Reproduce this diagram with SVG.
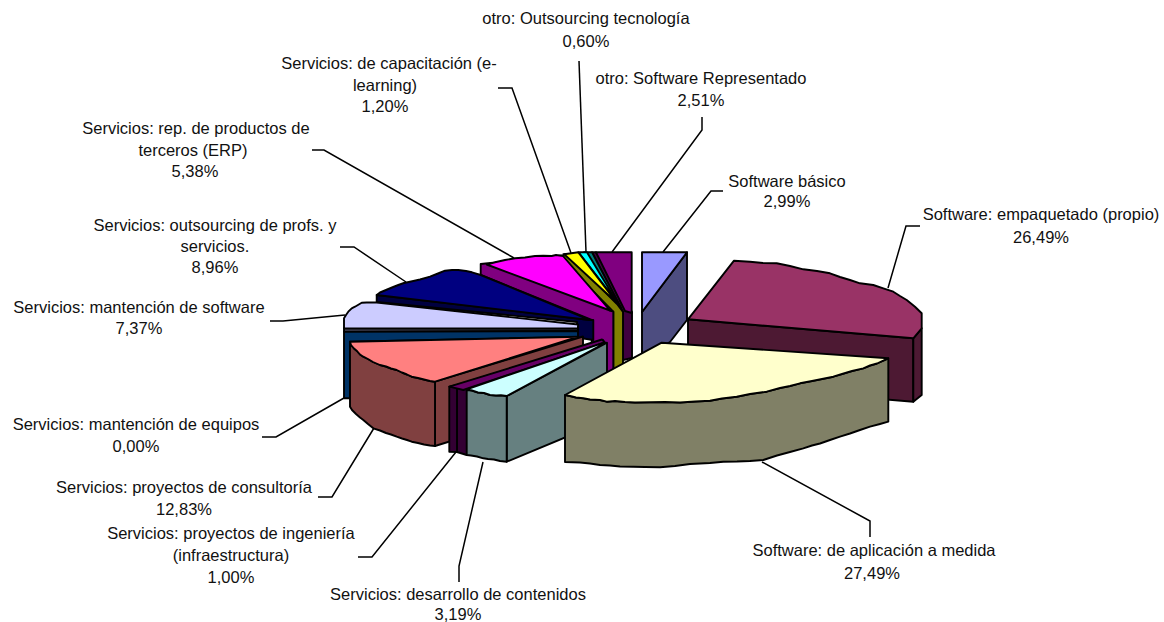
<svg xmlns="http://www.w3.org/2000/svg" width="1164" height="622" viewBox="0 0 1164 622">
<style>
.e{stroke:#000;stroke-width:1.9;stroke-linejoin:round}
.l{fill:none;stroke:#000;stroke-width:1.5}
.t{font-family:"Liberation Sans",Arial,sans-serif;font-size:16.5px;fill:#111;text-anchor:middle}
</style>
<rect width="1164" height="622" fill="#fff"/>
<g id="slice-otro-software-representado">
<polygon class="e" fill="#400040" points="592,252.3 596,252.3 632,312 632,358 623,360 623,312"/>
<polygon class="e" fill="#800080" points="596,252.3 631.7,252.3 631.7,313 625,311"/>
<text class="t" x="701" y="84">otro: Software Representado</text>
<text class="t" x="701" y="106">2,51%</text>
</g>
<g id="slice-otro-outsourcing-tecnologia">
<polygon class="e" fill="#008080" points="584,252.3 592,252.3 621,308 617,305"/>
<polygon class="e" fill="#00ffff" points="578.5,252.3 587,252.3 617,302"/>
<text class="t" x="586" y="24">otro: Outsourcing tecnología</text>
<text class="t" x="586" y="47">0,60%</text>
</g>
<g id="slice-servicios-capacitacion">
<polygon class="e" fill="#808000" points="563.3,254.3 567,254 617,304 623,312 623,367 613.3,372 613.3,311.7 563.3,261"/>
<polygon class="e" fill="#ffff00" points="564.3,254.3 578.3,252.3 617,303"/>
<text class="t" x="389" y="69">Servicios: de capacitación (e-</text>
<text class="t" x="385" y="91">learning)</text>
<text class="t" x="385" y="112">1,20%</text>
</g>
<g id="slice-software-basico">
<polygon class="e" fill="#4d4d80" points="642,312 687,252.3 687,320 670,342 642,358"/>
<polygon class="e" fill="#9999ff" points="642,252.3 687,252.3 642,312"/>
<text class="t" x="787" y="187">Software básico</text>
<text class="t" x="787" y="207">2,99%</text>
</g>
<g id="slice-servicios-erp">
<polygon class="e" fill="#800080" points="480.7,264 562,255.5 610,310.5 613.3,311.7 613.3,373 591.7,373 591.7,320 480.7,275"/>
<polygon class="e" fill="#ff00ff" points="486.7,264.5 495,262.3 505,260 515,258.3 525,257.5 535,256 543.3,255.7 551.7,256 556,255 563,256 610,310.5"/>
<text class="t" x="196" y="134">Servicios: rep. de productos de</text>
<text class="t" x="193" y="156">terceros (ERP)</text>
<text class="t" x="195" y="177">5,38%</text>
</g>
<g id="slice-servicios-outsourcing-profs">
<polygon class="e" fill="#000040" points="376.7,295 590,320 593.3,320 593.3,340 577,337.5 577,322 376.7,302"/>
<polygon class="e" fill="#000080" points="376.7,295 380,292.5 386,290 392,287.5 398.3,285 404,283 410,281.7 420,279.5 430,276.7 438,273.5 445,270.7 452,270 458.3,270 466,271 472,272.3 480.7,275 590,320"/>
<text class="t" x="215" y="231">Servicios: outsourcing de profs. y</text>
<text class="t" x="215" y="252">servicios.</text>
<text class="t" x="215" y="273">8,96%</text>
</g>
<g id="slice-servicios-mantencion-software">
<polygon class="e" fill="#666680" points="344,328.3 578,328.5 578,331 344,331.7"/>
<polygon class="e" fill="#ccccff" points="344,328.3 344,318.3 346,315 348.3,311.7 351.7,308.3 355,306.7 361.7,302.7 366.7,302.5 376.7,302.5 578,324.5 578,328.5"/>
<text class="t" x="139" y="313">Servicios: mantención de software</text>
<text class="t" x="139" y="334">7,37%</text>
</g>
<g id="slice-servicios-mantencion-equipos">
<polygon class="e" fill="#003366" points="344,331.7 578,331 578,337 350,341.7 350,398.3 344,398.3"/>
<text class="t" x="136" y="430">Servicios: mantención de equipos</text>
<text class="t" x="136" y="452">0,00%</text>
</g>
<g id="slice-software-empaquetado">
<polygon class="e" fill="#4d1933" points="688,319.3 913.3,338.3 913.3,401.7 688,383"/>
<polygon class="e" fill="#4d1933" points="913.3,338.3 921.7,328.3 921.7,395 913.3,401.7"/>
<polygon class="e" fill="#993366" points="688,319.3 734,260.7 750,261.7 763,263 776.7,263.3 790,266 803.3,269.3 817,271 830,273.3 840,277 850,280 860,283.3 873.3,285 883.3,288.3 893.3,291.7 900,296 906.7,300 915,306.7 921.7,313.3 921.7,328.3 913.3,338.3"/>
<text class="t" x="1041" y="220">Software: empaquetado (propio)</text>
<text class="t" x="1041" y="243">26,49%</text>
</g>
<g id="slice-servicios-consultoria">
<polygon class="e" fill="#804040" points="435,381.7 583,336.5 583,400 435,446"/>
<polygon class="e" fill="#804040" points="350,341.7 351,345 354,348.5 357,351 360,354.5 363.3,356.7 368,359 373,362 380,365 386,366.5 391,368.5 396.7,370 402,372.5 407,374.5 411.7,376.7 418,378 424,379.5 430,381 435,381.7 435,446 430,445.5 424,444.5 418,443 411.7,441.7 407,440 402,438.5 396.7,436.7 391,434.5 386,433 380,430.5 373.3,428.3 368,424 363.3,420 360,417.5 356,414 352,410 350,406.7"/>
<polygon class="e" fill="#ff8080" points="350,341.7 578.3,336.7 435,381.7 430,381 424,379.5 418,378 411.7,376.7 407,374.5 402,372.5 396.7,370 391,368.5 386,366.5 380,365 373,362 368,359 363.3,356.7 360,354.5 357,351 354,348.5 351,345"/>
<text class="t" x="184" y="493">Servicios: proyectos de consultoría</text>
<text class="t" x="184" y="515">12,83%</text>
</g>
<g id="slice-servicios-ingenieria">
<polygon class="e" fill="#330033" points="457,385 603,340 605,345 466.7,455 457,452"/>
<polygon class="e" fill="#330033" points="449.3,386.7 457,385 457,452 449.3,451.7"/>
<polygon class="e" fill="#660066" points="449.3,386.7 602,339.5 605,342.5 463.3,390"/>
<text class="t" x="231" y="539">Servicios: proyectos de ingeniería</text>
<text class="t" x="231" y="561">(infraestructura)</text>
<text class="t" x="231" y="583">1,00%</text>
</g>
<g id="slice-servicios-contenidos">
<polygon class="e" fill="#668080" points="506.7,396 607,342.7 607,420 506.7,461.7"/>
<polygon class="e" fill="#668080" points="466.7,390 472,390.5 478,392.5 484,393 490,395 496,395.5 501,395.3 506.7,396 506.7,461.7 500,461 494,459.5 488,459 483.3,458.3 477,456.5 471,455.5 466.7,455"/>
<polygon class="e" fill="#ccffff" points="466.7,389.3 601.7,343.3 605,343 506.7,396 501,395.3 496,395.5 490,395 484,393 478,392.5 472,390.5"/>
<text class="t" x="458" y="600">Servicios: desarrollo de contenidos</text>
<text class="t" x="458" y="620">3,19%</text>
</g>
<g id="slice-software-aplicacion">
<polygon class="e" fill="#808066" points="565,395 570,396 576,397.5 583.3,398.3 590,399.5 600,400 606.7,401.7 615,401 625,402 635,402.5 650,402.3 665,402 680,402.5 695,401.5 710,400.7 722,398.5 736.7,396.7 750,394 766.7,391.7 780,388 790,386 800,383.3 812,381 822,379 833.3,376.7 842,374 852,371 863.3,368.3 870,365.5 877,363.5 883.3,360.7 888.3,358.3 888.3,421.7 880,424 870,426.7 860,430 850,433.5 840,436.7 830,440 820,443.5 812,445.5 803.3,448.3 790,452 777,455.5 763.3,460 750,461 737,461.5 723.3,461.7 710,463 700,463.5 690,464 675,466 660,467.3 645,467 633.3,466.7 620,466.5 610,465.5 600,465 590,463.5 580,462.5 565,462"/>
<polygon class="e" fill="#ffffcc" points="661.7,342.7 888.3,358.3 883.3,360.7 877,363.5 870,365.5 863.3,368.3 852,371 842,374 833.3,376.7 822,379 812,381 800,383.3 790,386 780,388 766.7,391.7 750,394 736.7,396.7 722,398.5 710,400.7 695,401.5 680,402.5 665,402 650,402.3 635,402.5 625,402 615,401 606.7,401.7 600,400 590,399.5 583.3,398.3 576,397.5 570,396 565,395"/>
<text class="t" x="874" y="556">Software: de aplicación a medida</text>
<text class="t" x="872" y="579">27,49%</text>
</g>
<g id="connectors">
<path class="l" d="M579,61 L586,252"/>
<path class="l" d="M498,88 H512 L571,253"/>
<path class="l" d="M702,117 V130 L612,252"/>
<path class="l" d="M312,150 H324 L514,258"/>
<path class="l" d="M723,191 H711 L663,252"/>
<path class="l" d="M920,226 H906 L888,288"/>
<path class="l" d="M340,247 H354 L406,282"/>
<path class="l" d="M270,321 H283 L345,315"/>
<path class="l" d="M262,437 H276 L344,398"/>
<path class="l" d="M318,497 H332 L374,428"/>
<path class="l" d="M358,557 H372 L456,452"/>
<path class="l" d="M459,582 V566 L483,462"/>
<path class="l" d="M762,462 L870,521 V537"/>
</g>
</svg>
